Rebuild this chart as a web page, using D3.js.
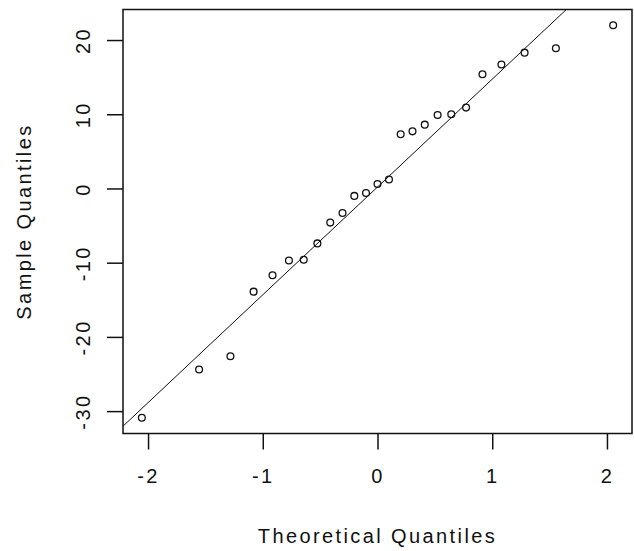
<!DOCTYPE html>
<head>
<meta charset="utf-8">
<title>Normal Q-Q plot</title>
<script src="https://d3js.org/d3.v7.min.js"></script>
<style>
body{
	margin: 0;
	background: white;
}
text{
	font-family: "Liberation Sans", Arial, sans-serif;
	font-size: 20px;
	letter-spacing: 2.4px;
	fill: #111;
}
</style>
</head>
<body>
<div id="my_dataviz"></div>
<script>

// theoretical quantiles (normal, n = 25)
var theoretical = [-2.054, -1.555, -1.282, -1.080, -0.915, -0.772, -0.643, -0.524, -0.412, -0.305,
	-0.202, -0.100, 0, 0.100, 0.202, 0.305, 0.412, 0.524, 0.643, 0.772,
	0.915, 1.080, 1.282, 1.555, 2.054];
// sample quantiles (sorted)
var sample = [-30.9, -24.4, -22.6, -13.9, -11.7, -9.7, -9.6, -7.4, -4.6, -3.3,
	-1.0, -0.6, 0.6, 1.2, 7.3, 7.7, 8.6, 9.9, 10.0, 10.9,
	15.4, 16.7, 18.3, 18.9, 22.0];
var xTicks = [-2, -1, 0, 1, 2];
var yTicks = [-30, -20, -10, 0, 10, 20];
var xTitle = "Theoretical Quantiles";
var yTitle = "Sample Quantiles";

var width = 634, height = 551;
var margin = {top: 9.5, right: 2, bottom: 117.5, left: 123};

var svg = d3.select("#my_dataviz")
	.append("svg")
	.attr("width", width)
	.attr("height", height);

// R style range: data extent padded by 4%
function pad(ext){
	var d = (ext[1] - ext[0]) * 0.04;
	return [ext[0] - d, ext[1] + d];
}

var x = d3.scaleLinear()
	.domain(pad(d3.extent(theoretical)))
	.range([margin.left, width - margin.right]);
var y = d3.scaleLinear()
	.domain(pad(d3.extent(sample)))
	.range([height - margin.bottom, margin.top]);

// clip for the reference line
svg.append("clipPath")
	.attr("id", "plotclip")
	.append("rect")
	.attr("x", margin.left)
	.attr("y", margin.top)
	.attr("width", width - margin.left - margin.right)
	.attr("height", height - margin.top - margin.bottom);

// axes (plain hyphen minus like R)
var fmt = d => String(d);
var xAxis = svg.append("g")
	.attr("transform", `translate(0,${height - margin.bottom})`)
	.call(d3.axisBottom(x).tickValues(xTicks).tickSize(16).tickPadding(18).tickFormat(fmt));
var yAxis = svg.append("g")
	.attr("transform", `translate(${margin.left},0)`)
	.call(d3.axisLeft(y).tickValues(yTicks).tickSize(16).tickPadding(0).tickFormat(fmt));

[xAxis, yAxis].forEach(function(a){
	a.select(".domain").remove();
	a.selectAll("line").attr("stroke", "#111").attr("stroke-width", 1.5);
	a.selectAll("text").attr("font-size", null).attr("font-family", null).attr("fill", null);
});
xAxis.selectAll("text").attr("dy", null).attr("y", 49);
yAxis.selectAll("text")
	.attr("x", null).attr("dy", null)
	.attr("text-anchor", "middle")
	.attr("transform", `translate(${89.5 - margin.left},0) rotate(-90)`);

// box
svg.append("rect")
	.attr("x", margin.left)
	.attr("y", margin.top)
	.attr("width", width - margin.left - margin.right)
	.attr("height", height - margin.top - margin.bottom)
	.attr("fill", "none")
	.attr("stroke", "#111")
	.attr("stroke-width", 1.5);

// qqline through the first and third quartiles
var qy = [d3.quantile(sample, 0.25), d3.quantile(sample, 0.75)];
var qx = [-0.6744898, 0.6744898];
var slope = (qy[1] - qy[0]) / (qx[1] - qx[0]);
var intercept = qy[0] - slope * qx[0];
var xd = x.domain();
svg.append("line")
	.attr("clip-path", "url(#plotclip)")
	.attr("x1", x(xd[0])).attr("y1", y(intercept + slope * xd[0]))
	.attr("x2", x(xd[1])).attr("y2", y(intercept + slope * xd[1]))
	.attr("stroke", "#111")
	.attr("stroke-width", 1);

// points
svg.append("g")
	.selectAll("circle")
	.data(theoretical)
	.join("circle")
	.attr("cx", d => x(d))
	.attr("cy", (d, i) => y(sample[i]))
	.attr("r", 3.4)
	.attr("fill", "none")
	.attr("stroke", "#111")
	.attr("stroke-width", 1.3);

// axis titles
svg.append("text")
	.attr("x", x(0))
	.attr("y", 543)
	.attr("text-anchor", "middle")
	.text(xTitle);
svg.append("text")
	.attr("transform", `translate(31,${(margin.top + height - margin.bottom) / 2}) rotate(-90)`)
	.attr("text-anchor", "middle")
	.text(yTitle);
</script>
</body>
</html>
